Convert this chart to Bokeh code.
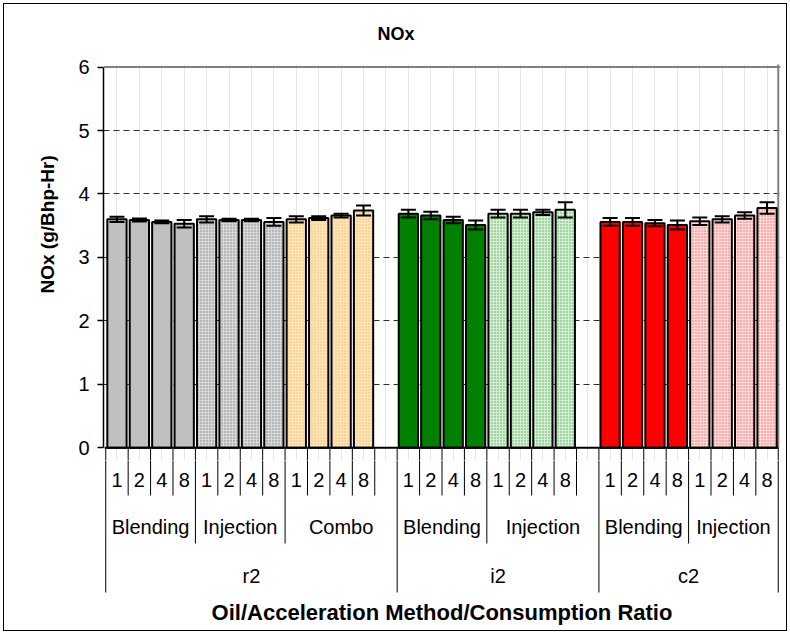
from bokeh.plotting import figure
from bokeh.models import (FactorRange, Range1d, ColumnDataSource, Whisker, TeeHead,
                          FixedTicker, Span, Title)
from bokeh.layouts import column
from bokeh.core.properties import value
from bokeh.embed import file_html
from bokeh.resources import INLINE

# ---------------- data ----------------
oils = ["r2", "i2", "c2"]
ratios = ["1", "2", "4", "8"]
oil_methods = {"r2": ["Blending", "Injection", "Combo"],
               "i2": ["Blending", "Injection"],
               "c2": ["Blending", "Injection"]}
blank_after = [("r2", "Combo"), ("i2", "Injection")]   # empty category slot after these groups

r2_blending = [3.60, 3.59, 3.56, 3.53]
r2_blending_err = [0.04, 0.025, 0.02, 0.06]
r2_injection = [3.60, 3.59, 3.59, 3.56]
r2_injection_err = [0.05, 0.02, 0.02, 0.06]
r2_combo = [3.60, 3.62, 3.66, 3.74]
r2_combo_err = [0.05, 0.03, 0.03, 0.08]
i2_blending = [3.69, 3.66, 3.59, 3.51]
i2_blending_err = [0.06, 0.06, 0.05, 0.07]
i2_injection = [3.69, 3.69, 3.71, 3.75]
i2_injection_err = [0.06, 0.06, 0.04, 0.12]
c2_blending = [3.56, 3.56, 3.54, 3.51]
c2_blending_err = [0.06, 0.06, 0.05, 0.07]
c2_injection = [3.57, 3.60, 3.66, 3.78]
c2_injection_err = [0.06, 0.05, 0.05, 0.09]

y_ticks = [0, 1, 2, 3, 4, 5, 6]
title_text = "NOx"
y_title = "NOx (g/Bhp-Hr)"
x_title = "Oil/Acceleration Method/Consumption Ratio"

series = [
    ("r2", "Blending", r2_blending, r2_blending_err, "#C0C0C0", None, None),
    ("r2", "Injection", r2_injection, r2_injection_err, "#D9D9D9", "#808080", "dot"),
    ("r2", "Combo", r2_combo, r2_combo_err, "#FFE6BE", "#FFB84D", "dot"),
    ("i2", "Blending", i2_blending, i2_blending_err, "#008000", None, None),
    ("i2", "Injection", i2_injection, i2_injection_err, "#D4EFD4", "#4CAF50", "dot"),
    ("c2", "Blending", c2_blending, c2_blending_err, "#FF0000", None, None),
    ("c2", "Injection", c2_injection, c2_injection_err, "#FFD8D8", "#FF6666", "dot"),
]

# ---------------- factors ----------------
factors = []
for oil in oils:
    for m in oil_methods[oil]:
        for r in ratios:
            factors.append((oil, m, r))
        if (oil, m) in blank_after:
            factors.append((oil, m, " "))

n = len(factors)
lvl2_b = [0] + [i for i in range(1, n) if factors[i][:2] != factors[i - 1][:2]] + [n]
lvl3_b = [0] + [i for i in range(1, n) if factors[i][0] != factors[i - 1][0]] + [n]

xr = FactorRange(factors=factors, factor_padding=0, subgroup_padding=0, group_padding=0,
                 range_padding=0.1, range_padding_units="absolute")

FONT = "Liberation Sans"

# ---------------- main plot ----------------
p1 = figure(width=782, height=456, x_range=xr, y_range=Range1d(-0.2, 6.04),
            output_backend="svg", toolbar_location=None, x_axis_location=None,
            min_border_left=99, min_border_right=6, min_border_top=58, min_border_bottom=0)
p1.outline_line_color = None
p1.background_fill_color = "white"
p1.border_fill_color = "white"

p1.title = Title(text=title_text, align="left", offset=274, vertical_align="top", standoff=38,
                 text_font=FONT, text_font_size="18px", text_font_style="bold", text_color="black")

yax = p1.yaxis[0]
yax.ticker = FixedTicker(ticks=y_ticks)
yax.bounds = (0, 6)
yax.major_tick_out = 6
yax.major_tick_in = 0
yax.minor_tick_line_color = None
yax.axis_line_color = "black"
yax.axis_line_width = 1.5
yax.major_tick_line_color = "black"
yax.major_tick_line_width = 1.5
yax.major_label_standoff = 8
yax.major_label_text_font = FONT
yax.major_label_text_font_size = "20px"
yax.major_label_text_color = "black"

p1.add_layout(Title(text=y_title, align="left", offset=167, standoff=36,
                    text_font=FONT, text_font_size="19px", text_font_style="bold",
                    text_color="black"), "left")

p1.ygrid.ticker = FixedTicker(ticks=[1, 2, 3, 4, 5])
p1.ygrid.grid_line_color = "#303030"
p1.ygrid.grid_line_dash = "6 4"
p1.ygrid.grid_line_width = 1

# plot-area frame: grey top and right edges, black category axis line
p1.add_layout(Span(location=6, dimension="width", line_color="#808080", line_width=2))
p1.segment(x0=[n], x1=[n], y0=[0], y1=[6.1], line_color="#808080", line_width=2)

for oil, m, vals, errs, fill, hcol, pat in series:
    src = ColumnDataSource(dict(
        x=[(oil, m, r) for r in ratios],
        top=vals,
        upper=[v + e for v, e in zip(vals, errs)],
        lower=[v - e for v, e in zip(vals, errs)],
    ))
    kw = dict(x="x", top="top", width=0.86, source=src, fill_color=fill,
              line_color="black", line_width=2)
    if pat:
        kw.update(hatch_pattern=pat, hatch_color=hcol, hatch_scale=3, hatch_weight=1.2)
    p1.vbar(**kw)
    p1.add_layout(Whisker(base="x", upper="upper", lower="lower", source=src,
                          line_color="black", line_width=2, level="overlay",
                          upper_head=TeeHead(size=15, line_color="black", line_width=2),
                          lower_head=TeeHead(size=15, line_color="black", line_width=2)))

p1.segment(x0=[-0.05], x1=[n], y0=[0], y1=[0], line_color="black", line_width=2)
bx = list(range(n + 1))
p1.segment(x0=bx, x1=bx, y0=[-0.5] * len(bx), y1=[0] * len(bx),
           line_color="black", line_width=1)

# ---------------- category axis panel ----------------
p2 = figure(width=782, height=170, x_range=xr, y_range=Range1d(183, 13),
            output_backend="svg", toolbar_location=None,
            x_axis_location=None, y_axis_location=None,
            min_border_left=99, min_border_right=6, min_border_top=0, min_border_bottom=0)
p2.outline_line_color = None
p2.grid.visible = False

depth = [145 if b in lvl3_b else (96 if b in lvl2_b else 48) for b in bx]
p2.segment(x0=bx, x1=bx, y0=[0] * len(bx), y1=depth, line_color="black", line_width=1)

lab1 = [f for f in factors if f[2].strip()]
p2.text(x=lab1, y=[32] * len(lab1), text=[f[2] for f in lab1],
        text_font=value(FONT), text_font_size=value("20px"), text_color="black",
        text_align="center", text_baseline="middle")

lab2 = []
for oil in oils:
    for m in oil_methods[oil]:
        lab2.append((oil, m))
p2.text(x=lab2, y=[79] * len(lab2), text=[t[1] for t in lab2],
        text_font=value(FONT), text_font_size=value("20px"), text_color="black",
        text_align="center", text_baseline="middle")

p2.text(x=oils, y=[128] * len(oils), text=oils,
        text_font=value(FONT), text_font_size=value("20px"), text_color="black",
        text_align="center", text_baseline="middle")

p2.text(x=[n / 2], y=[165], text=[x_title],
        text_font=value(FONT), text_font_size=value("22px"), text_font_style="bold",
        text_color="black", text_align="center", text_baseline="middle")

layout = column(p1, p2, margin=(3, 3, 3, 3), styles={"border": "1px solid black"})

open("out.html", "w").write(file_html(layout, INLINE))
